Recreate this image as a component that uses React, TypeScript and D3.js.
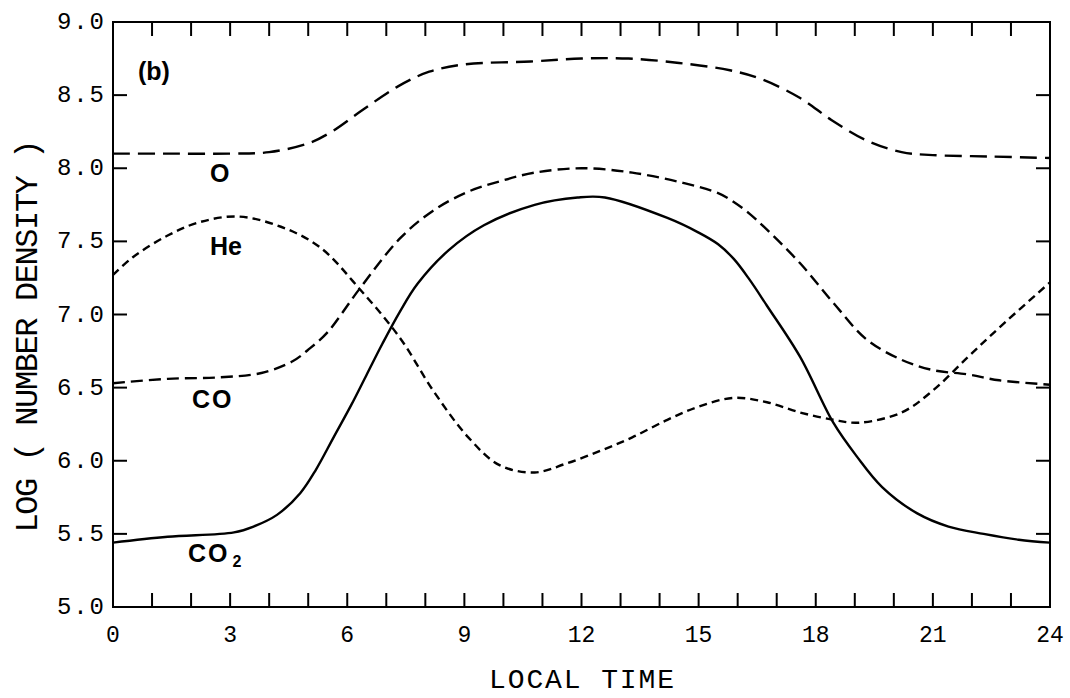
import React from "react";
import * as d3 from "d3";

const W = 1070;
const H = 698;
const M = { left: 113, right: 1050, top: 22, bottom: 607 };

const xTicks = d3.range(0, 25, 1);
const xTickLabels = [0, 3, 6, 9, 12, 15, 18, 21, 24];
const yTicks = [5.0, 5.5, 6.0, 6.5, 7.0, 7.5, 8.0, 8.5, 9.0];

const oHours = [0, 1.5, 3, 4, 5, 5.6, 6.4, 7.3, 8.1, 9, 10.7, 12, 13.2, 14.5, 15.8, 16.6, 17.6, 18.4, 19.3, 20.2, 21, 22.5, 24];
const oValues = [8.1, 8.1, 8.1, 8.11, 8.17, 8.25, 8.4, 8.56, 8.66, 8.71, 8.73, 8.75, 8.75, 8.72, 8.67, 8.61, 8.48, 8.33, 8.19, 8.11, 8.09, 8.08, 8.07];

const heHours = [0, 0.5, 1.4, 2.2, 3.2, 4.3, 5.3, 6.3, 7.35, 8.2, 9.1, 9.9, 10.8, 11.6, 12.5, 13.3, 14.2, 15, 15.9, 16.75, 17.6, 18.45, 19.1, 20.2, 21, 21.9, 22.7, 24];
const heValues = [7.27, 7.39, 7.54, 7.63, 7.67, 7.6, 7.46, 7.18, 6.84, 6.48, 6.16, 5.97, 5.92, 5.98, 6.07, 6.16, 6.28, 6.37, 6.43, 6.4, 6.33, 6.28, 6.26, 6.33, 6.48, 6.71, 6.91, 7.22];

const coHours = [0, 1.4, 2.7, 3.8, 4.6, 5.05, 5.5, 6.3, 7.35, 8.2, 9.1, 9.9, 10.8, 12, 13.3, 14.6, 15.5, 15.9, 16.3, 16.75, 17.6, 18.45, 19.3, 20.2, 21, 21.9, 22.7, 24];
const coValues = [6.53, 6.56, 6.57, 6.6, 6.68, 6.77, 6.88, 7.17, 7.52, 7.71, 7.84, 7.91, 7.97, 8.0, 7.97, 7.9, 7.83, 7.77, 7.69, 7.58, 7.35, 7.08, 6.83, 6.69, 6.62, 6.59, 6.55, 6.52];

const co2Hours = [0, 1.4, 3.1, 3.6, 4.2, 4.8, 5.2, 5.65, 6.1, 6.5, 6.9, 7.35, 7.8, 8.6, 9.5, 10.8, 11.9, 12.6, 14.2, 15, 15.5, 15.9, 16.3, 16.75, 17.6, 18.45, 19.05, 19.7, 20.6, 21.4, 22.3, 23.2, 24];
const co2Values = [5.44, 5.48, 5.51, 5.55, 5.63, 5.78, 5.94, 6.16, 6.38, 6.59, 6.8, 7.02, 7.21, 7.44, 7.61, 7.75, 7.8, 7.8, 7.66, 7.56, 7.48, 7.38, 7.24, 7.06, 6.71, 6.26, 6.03, 5.82, 5.64, 5.55, 5.5, 5.46, 5.44];

const series = [
  { name: "O", hours: oHours, values: oValues, dash: "17,8" },
  { name: "He", hours: heHours, values: heValues, dash: "8,5" },
  { name: "CO", hours: coHours, values: coValues, dash: "12,6" },
  { name: "CO2", hours: co2Hours, values: co2Values, dash: "none" },
];

const mono = "'Liberation Mono', 'DejaVu Sans Mono', monospace";
const sans = "'Liberation Sans', Arial, sans-serif";

export default function App() {
  const x = d3.scaleLinear().domain([0, 24]).range([M.left, M.right]);
  const y = d3.scaleLinear().domain([5, 9]).range([M.bottom, M.top]);
  const line = d3
    .line<[number, number]>()
    .x((d) => x(d[0]))
    .y((d) => y(d[1]))
    .curve(d3.curveCatmullRom.alpha(0.5));
  const tl = 14;

  return (
    <svg
      width={W}
      height={H}
      style={{ position: "absolute", left: 0, top: 0, background: "#fff" }}
    >
      {series.map((s) => (
        <path
          key={s.name}
          d={line(s.hours.map((h, i) => [h, s.values[i]] as [number, number])) || ""}
          fill="none"
          stroke="#000"
          strokeWidth={2.4}
          strokeDasharray={s.dash}
        />
      ))}
      <rect
        x={M.left}
        y={M.top}
        width={M.right - M.left}
        height={M.bottom - M.top}
        fill="none"
        stroke="#000"
        strokeWidth={2}
      />
      {xTicks.map((t) => (
        <g key={"xt" + t} stroke="#000" strokeWidth={2}>
          <line x1={x(t)} x2={x(t)} y1={M.bottom} y2={M.bottom - tl} />
          <line x1={x(t)} x2={x(t)} y1={M.top} y2={M.top + tl} />
        </g>
      ))}
      {yTicks.map((t) => (
        <g key={"yt" + t} stroke="#000" strokeWidth={2}>
          <line x1={M.left} x2={M.left + tl} y1={y(t)} y2={y(t)} />
          <line x1={M.right} x2={M.right - tl} y1={y(t)} y2={y(t)} />
        </g>
      ))}
      {xTickLabels.map((t) => (
        <text
          key={"xl" + t}
          x={x(t)}
          y={M.bottom + 35}
          textAnchor="middle"
          fontFamily={mono}
          fontSize={23}
        >
          {t}
        </text>
      ))}
      {yTicks.map((t) => (
        <text
          key={"yl" + t}
          x={M.left - 56}
          y={y(t) + 7}
          fontFamily={mono}
          fontSize={24}
          textLength={47}
        >
          {d3.format(".1f")(t)}
        </text>
      ))}
      <text
        x={(M.left + M.right) / 2}
        y={688}
        textAnchor="middle"
        fontFamily={mono}
        fontSize={28}
        textLength={185}
      >
        LOCAL TIME
      </text>
      <text
        transform={`translate(37,336) rotate(-90)`}
        textAnchor="middle"
        fontFamily={mono}
        fontSize={32}
        textLength={393}
      >
        LOG ( NUMBER DENSITY )
      </text>
      <g fontFamily={sans} fontWeight="bold" fontSize={25}>
        <text x={138} y={80}>(b)</text>
        <text x={210} y={182}>O</text>
        <text x={210} y={255}>He</text>
        <text x={192} y={408} letterSpacing={2}>CO</text>
        <text x={188} y={562} letterSpacing={2}>
          CO
          <tspan fontSize={16} dx={3} dy={5}>2</tspan>
        </text>
      </g>
    </svg>
  );
}
